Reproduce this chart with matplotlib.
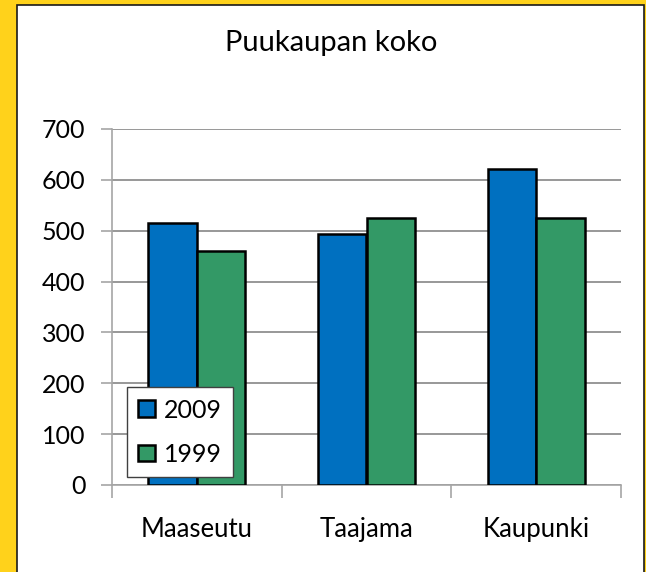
import matplotlib
matplotlib.use("Agg")
import matplotlib.pyplot as plt
from matplotlib.patches import Rectangle
import numpy as np

title = "Puukaupan koko"
categories = ["Maaseutu", "Taajama", "Kaupunki"]
series_names = ["2009", "1999"]
values_2009 = [516, 494, 622]
values_1999 = [461, 525, 525]
yticks = [0, 100, 200, 300, 400, 500, 600, 700]

plt.rcParams['font.family'] = ['Lato', 'DejaVu Sans']

W, H = 646, 572
fig = plt.figure(figsize=(W / 100, H / 100), dpi=100)
fig.patch.set_facecolor('#FFD21B')

# white chart area with thin dark border
bg = Rectangle((17 / W, -0.01), (644 - 17) / W, (H - 5) / H + 0.01,
               transform=fig.transFigure, facecolor='white',
               edgecolor='#1a1a1a', linewidth=1.2, zorder=-10)
fig.patches.append(bg)

ax = fig.add_axes([112 / W, 1 - 485 / H, (621 - 112) / W, (485 - 129) / H])
ax.set_facecolor('none')

x = np.arange(len(categories))
bw = 0.285
ax.bar(x - bw / 2, values_2009, bw, color='#0070C0', edgecolor='black',
       linewidth=1.8, label=series_names[0], zorder=3)
ax.bar(x + bw / 2, values_1999, bw, color='#339966', edgecolor='black',
       linewidth=1.8, label=series_names[1], zorder=3)

ax.set_xlim(-0.5, len(categories) - 0.5)
ax.set_ylim(0, 700)
ax.set_yticks(yticks)
ax.set_yticklabels([str(v) for v in yticks])
ax.yaxis.grid(True, color='#868686', linewidth=1.2, zorder=0)
ax.set_axisbelow(True)

ax.set_xticks(x)
ax.set_xticklabels(categories)
ax.set_xticks(np.arange(-0.5, len(categories), 1.0), minor=True)
ax.tick_params(axis='x', which='major', length=0, pad=23, labelsize=18.5)
ax.tick_params(axis='x', which='minor', length=9, color='#A6A6A6', width=1.2)
ax.tick_params(axis='y', length=8, color='#A6A6A6', width=1.2, pad=11, labelsize=18)

for s in ['top', 'right']:
    ax.spines[s].set_visible(False)
for s in ['left', 'bottom']:
    ax.spines[s].set_color('#A6A6A6')
    ax.spines[s].set_linewidth(1.2)

fig.text(331 / W, 1 - 43 / H, title, ha='center', va='center', fontsize=21)

leg = ax.legend(loc='lower left', bbox_to_anchor=((127 - 112) / (621 - 112), (485 - 477) / (485 - 129)),
                fontsize=18, frameon=True, fancybox=False, framealpha=1,
                edgecolor='#404040', handlelength=0.66, handleheight=0.66,
                handletextpad=0.35, labelspacing=0.85, borderpad=0.45,
                borderaxespad=0)
leg.get_frame().set_linewidth(1.0)
leg.set_zorder(5)

fig.savefig('out.png', dpi=100, facecolor=fig.get_facecolor())
